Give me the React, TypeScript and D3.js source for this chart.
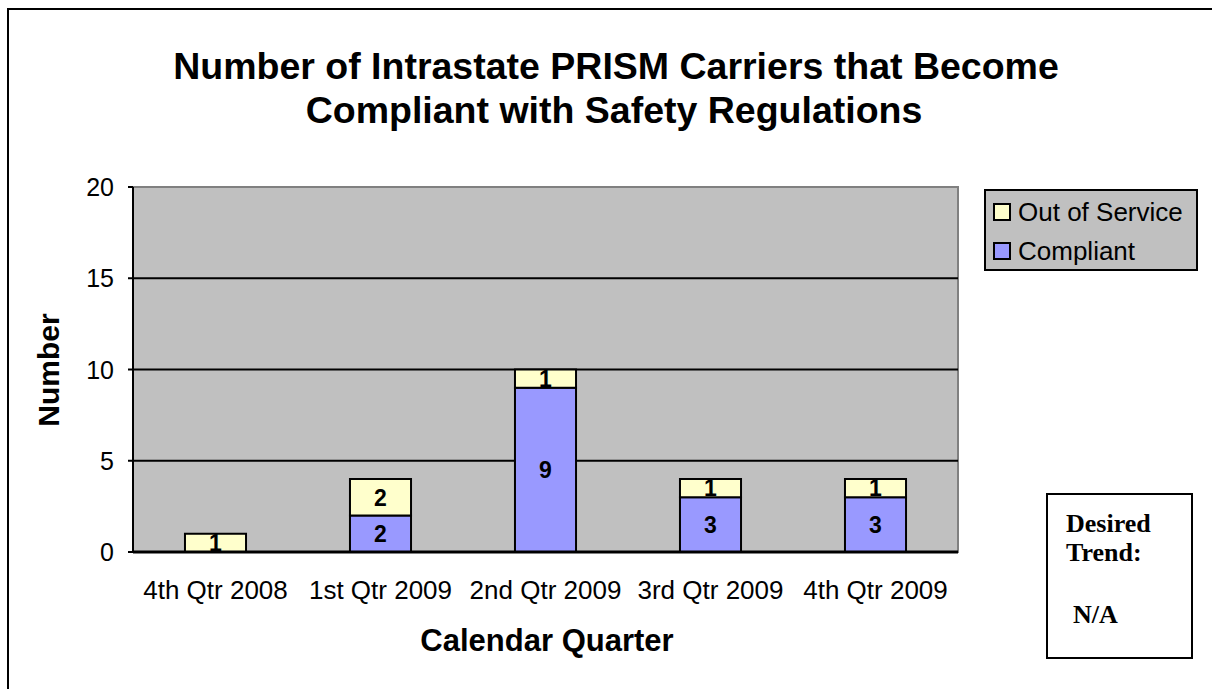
import React from 'react';
import * as d3 from 'd3';

const quarters = ['4th Qtr 2008', '1st Qtr 2009', '2nd Qtr 2009', '3rd Qtr 2009', '4th Qtr 2009'];
const compliant = [0, 2, 9, 3, 3];
const outOfService = [1, 2, 1, 1, 1];
const yTicks = [0, 5, 10, 15, 20];

const W = 1212;
const H = 689;
const plot = { left: 133, top: 187, right: 958, bottom: 552 };

const App: React.FC = () => {
  const x = d3.scaleBand<string>()
    .domain(quarters)
    .range([plot.left, plot.right])
    .paddingInner(0.63)
    .paddingOuter(0.315);
  const y = d3.scaleLinear().domain([0, 20]).range([plot.bottom, plot.top]);

  const rows = quarters.map((q, i) => ({ q, c: compliant[i], o: outOfService[i] }));
  const font = 'Arial, "Liberation Sans", sans-serif';
  const serif = '"Times New Roman", "Liberation Serif", serif';

  return (
    <div style={{ position: 'absolute', left: 0, top: 0 }}>
      <svg width={W} height={H} style={{ display: 'block', background: '#fff' }}>
        {/* outer frame, cut off at the right and bottom */}
        <rect x={8} y={9} width={W + 20} height={H + 20} fill="#fff" stroke="#000" strokeWidth={2} />

        {/* title */}
        <text x={616} y={79} textAnchor="middle" fontFamily={font} fontWeight="bold" fontSize={37.5}>
          Number of Intrastate PRISM Carriers that Become
        </text>
        <text x={614} y={123} textAnchor="middle" fontFamily={font} fontWeight="bold" fontSize={37.5}>
          Compliant with Safety Regulations
        </text>

        {/* plot area */}
        <rect x={plot.left} y={plot.top} width={plot.right - plot.left} height={plot.bottom - plot.top}
          fill="#C0C0C0" stroke="#808080" strokeWidth={2} />
        {yTicks.filter(t => t > 0 && t < 20).map(t => (
          <line key={t} x1={plot.left} x2={plot.right} y1={y(t)} y2={y(t)} stroke="#000" strokeWidth={2} />
        ))}

        {/* bars */}
        {rows.map(d => (
          <g key={d.q}>
            {d.c > 0 && (
              <rect x={x(d.q)} y={y(d.c)} width={x.bandwidth()} height={y(0) - y(d.c)}
                fill="#9999FF" stroke="#000" strokeWidth={2} />
            )}
            {d.o > 0 && (
              <rect x={x(d.q)} y={y(d.c + d.o)} width={x.bandwidth()} height={y(d.c) - y(d.c + d.o)}
                fill="#FFFFCC" stroke="#000" strokeWidth={2} />
            )}
            {d.c > 0 && (
              <text x={(x(d.q) || 0) + x.bandwidth() / 2} y={y(d.c / 2)} dy="0.36em" textAnchor="middle"
                fontFamily={font} fontWeight="bold" fontSize={23}>{d.c}</text>
            )}
            {d.o > 0 && (
              <text x={(x(d.q) || 0) + x.bandwidth() / 2} y={y(d.c + d.o / 2)} dy="0.36em" textAnchor="middle"
                fontFamily={font} fontWeight="bold" fontSize={23}>{d.o}</text>
            )}
          </g>
        ))}

        {/* axes */}
        <line x1={plot.left} x2={plot.left} y1={plot.top} y2={plot.bottom} stroke="#000" strokeWidth={2} />
        <line x1={plot.left} x2={plot.right} y1={plot.bottom} y2={plot.bottom} stroke="#000" strokeWidth={3} />
        {yTicks.map(t => (
          <g key={t}>
            <line x1={plot.left - 5} x2={plot.left} y1={y(t)} y2={y(t)} stroke="#000" strokeWidth={2} />
            <text x={114} y={y(t)} dy="0.36em" textAnchor="end" fontFamily={font} fontSize={25}>{t}</text>
          </g>
        ))}
        {quarters.map(q => (
          <text key={q} x={(x(q) || 0) + x.bandwidth() / 2} y={599} textAnchor="middle" fontFamily={font} fontSize={26}>
            {q}
          </text>
        ))}

        {/* axis titles */}
        <text transform={`translate(59,370) rotate(-90)`} textAnchor="middle" fontFamily={font} fontWeight="bold" fontSize={30}>
          Number
        </text>
        <text x={547} y={651} textAnchor="middle" fontFamily={font} fontWeight="bold" fontSize={31}>
          Calendar Quarter
        </text>

        {/* legend */}
        <rect x={985} y={190} width={212} height={80} fill="#C0C0C0" stroke="#000" strokeWidth={2} />
        {[['Out of Service', '#FFFFCC'], ['Compliant', '#9999FF']].map(([name, col], i) => (
          <g key={name}>
            <rect x={994} y={204 + i * 39} width={16} height={16} fill={col} stroke="#000" strokeWidth={2} />
            <text x={1018} y={212 + i * 39} dy="0.36em" fontFamily={font} fontSize={26}>{name}</text>
          </g>
        ))}

        {/* desired trend box */}
        <rect x={1047} y={494} width={145} height={164} fill="#fff" stroke="#000" strokeWidth={2} />
        <text x={1066} y={532} fontFamily={serif} fontWeight="bold" fontSize={26}>Desired</text>
        <text x={1066} y={561} fontFamily={serif} fontWeight="bold" fontSize={26}>Trend:</text>
        <text x={1073} y={623} fontFamily={serif} fontWeight="bold" fontSize={26}>N/A</text>
      </svg>
    </div>
  );
};

export default App;
